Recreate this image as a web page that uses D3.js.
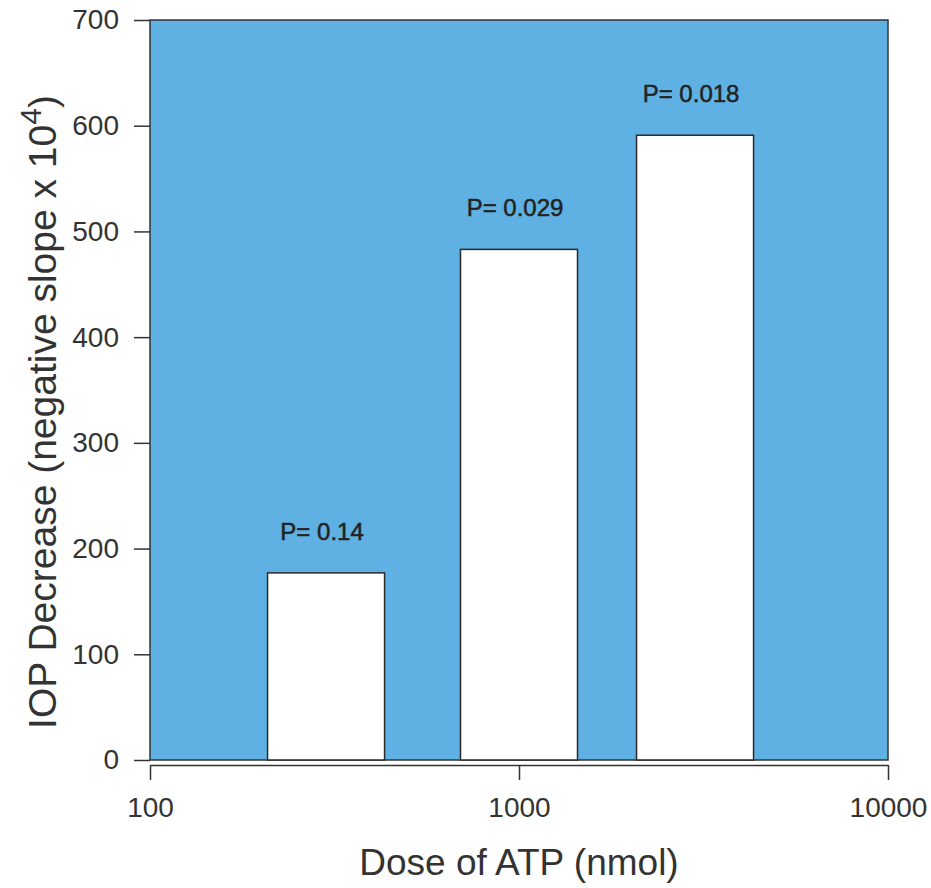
<!DOCTYPE html>
<html>
<head>
<meta charset="utf-8">
<script src="https://cdn.jsdelivr.net/npm/d3@7"></script>
<style>
  body { margin: 0; background: #fff; }
  text { font-family: Arial, "Liberation Sans", sans-serif; fill: #333; }
</style>
</head>
<body>
<div id="chart"></div>
<script>
// Data
var doses = [300, 1000, 3000];
var decrease = [177, 483, 591];
var pLabels = ["P= 0.14", "P= 0.029", "P= 0.018"];
var yTicks = [0, 100, 200, 300, 400, 500, 600, 700];
var xTicks = [100, 1000, 10000];

var width = 931, height = 888;
var margin = {left: 150, right: 43, top: 20, bottom: 128};
var barWidth = 117;

var svg = d3.select("#chart").append("svg")
    .attr("width", width)
    .attr("height", height);

var x = d3.scaleLog()
    .domain([100, 10000])
    .range([margin.left, width - margin.right]);

var y = d3.scaleLinear()
    .domain([0, 700])
    .range([height - margin.bottom, margin.top]);

// blue plot area
svg.append("rect")
    .attr("x", x(100))
    .attr("y", y(700))
    .attr("width", x(10000) - x(100))
    .attr("height", y(0) - y(700))
    .attr("fill", "#5fb1e3")
    .attr("stroke", "#333")
    .attr("stroke-width", 1.5);

// bars
svg.selectAll("rect.bar")
    .data(doses)
    .enter().append("rect")
    .attr("class", "bar")
    .attr("x", function(d) { return x(d) - barWidth / 2; })
    .attr("y", function(d, i) { return y(decrease[i]); })
    .attr("width", barWidth)
    .attr("height", function(d, i) { return y(0) - y(decrease[i]); })
    .attr("fill", "#fff")
    .attr("stroke", "#2a2a2a")
    .attr("stroke-width", 1.5);

// P-value labels
svg.selectAll("text.plab")
    .data(doses)
    .enter().append("text")
    .attr("class", "plab")
    .attr("x", function(d) { return x(d) - 4; })
    .attr("y", function(d, i) { return y(decrease[i]) - 33; })
    .attr("text-anchor", "middle")
    .style("font-size", "24px")
    .style("fill", "#222")
    .style("stroke", "#222")
    .style("stroke-width", 0.5)
    .text(function(d, i) { return pLabels[i]; });

// y axis
var yAxis = svg.append("g")
    .attr("transform", "translate(" + margin.left + ",0)")
    .call(d3.axisLeft(y).tickValues(yTicks).tickSize(16).tickPadding(15));
yAxis.select(".domain").remove();
yAxis.selectAll("line").attr("stroke", "#333").attr("stroke-width", 1.5);
yAxis.selectAll("text")
    .style("font-size", "28px")
    .style("font-family", "Arial, 'Liberation Sans', sans-serif")
    .attr("fill", "#333");

// x axis (offset a little below the plot)
var xAxis = svg.append("g")
    .attr("transform", "translate(0," + (y(0) + 5) + ")")
    .call(d3.axisBottom(x).tickValues(xTicks).tickFormat(d3.format("d"))
        .tickSize(15).tickSizeOuter(0).tickPadding(17));
xAxis.select(".domain").attr("stroke", "#333").attr("stroke-width", 1.5);
xAxis.selectAll("line").attr("stroke", "#333").attr("stroke-width", 1.5);
xAxis.selectAll("text")
    .style("font-size", "28px")
    .style("font-family", "Arial, 'Liberation Sans', sans-serif")
    .attr("fill", "#333");

// axis titles
svg.append("text")
    .attr("x", x(1000))
    .attr("y", 875)
    .attr("text-anchor", "middle")
    .style("font-size", "37px")
    .text("Dose of ATP (nmol)");

var yTitle = svg.append("text")
    .attr("transform", "translate(56," + 412 + ") rotate(-90)")
    .attr("text-anchor", "middle")
    .style("font-size", "39px");
yTitle.append("tspan").text("IOP Decrease (negative slope x 10");
yTitle.append("tspan").attr("dy", "-15").style("font-size", "30px").text("4");
yTitle.append("tspan").attr("dy", "15").text(")");
</script>
</body>
</html>
